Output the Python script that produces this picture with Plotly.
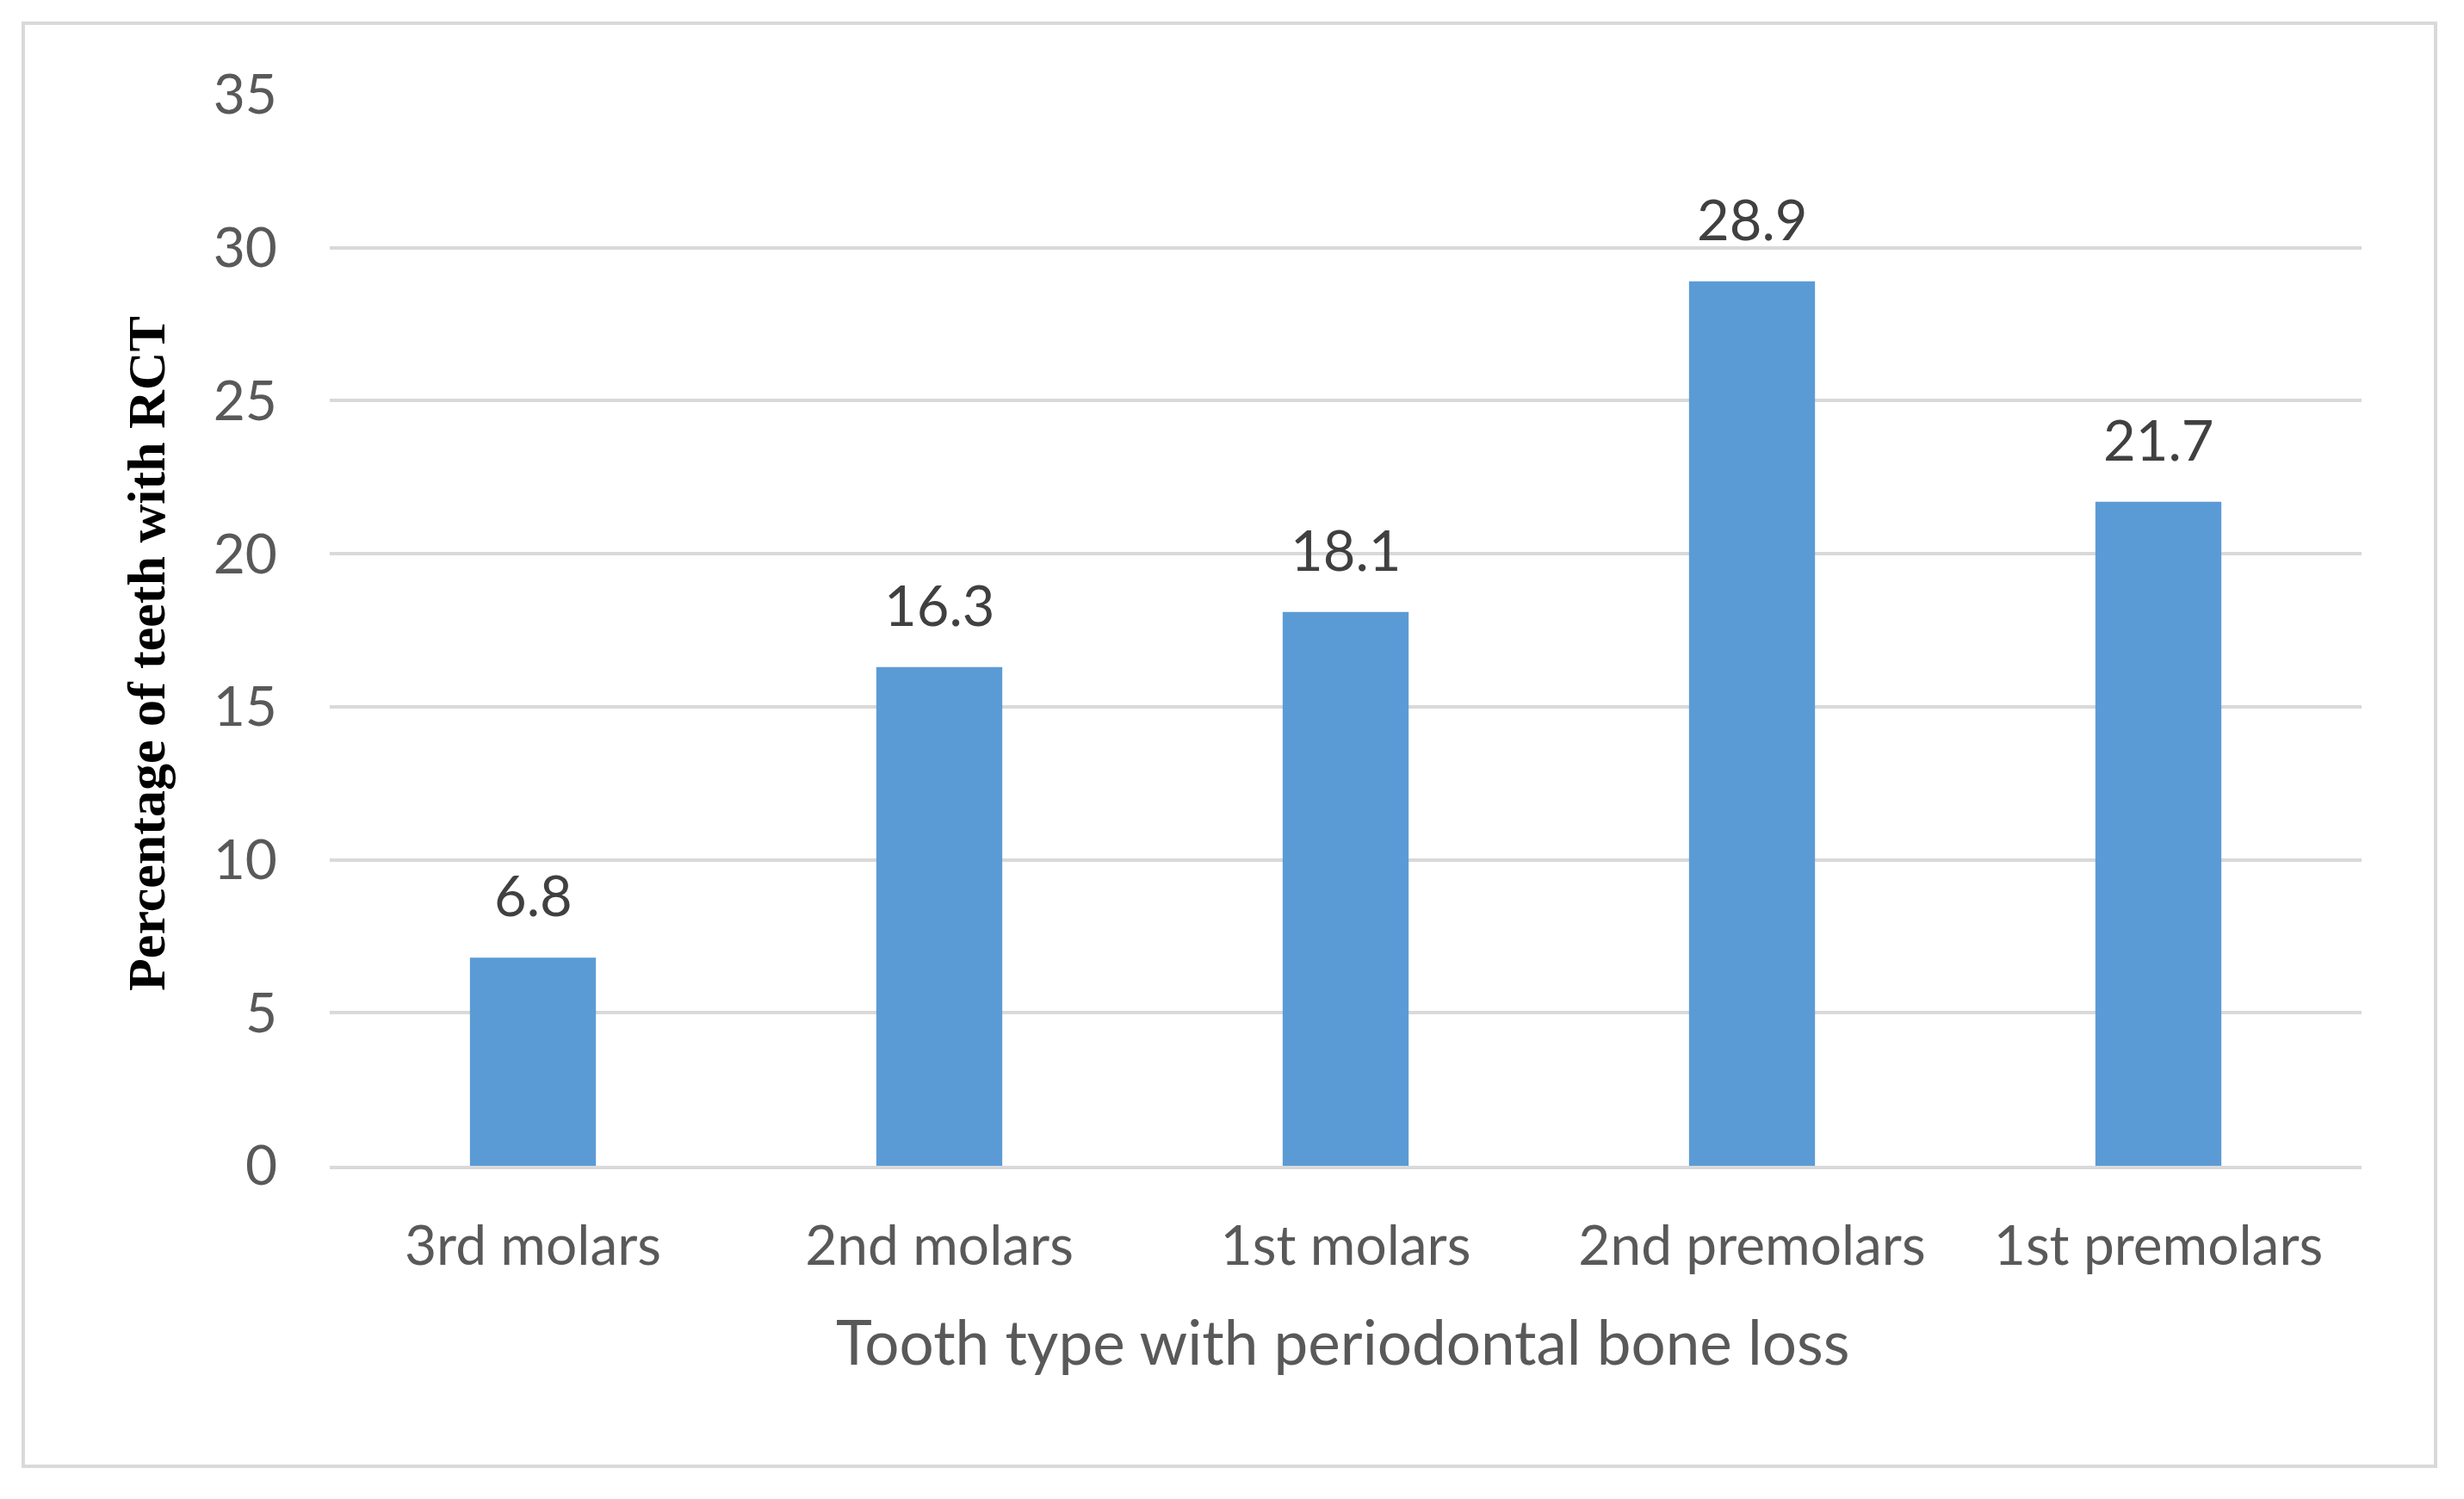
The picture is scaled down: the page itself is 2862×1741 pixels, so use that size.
import plotly.graph_objects as go

categories = ["3rd molars", "2nd molars", "1st molars", "2nd premolars", "1st premolars"]
values = [6.8, 16.3, 18.1, 28.9, 21.7]
y_ticks = [0, 5, 10, 15, 20, 25, 30, 35]

W, H = 2862, 1741
OFF = 8  # page body margin
L, R, T, B = 383 - OFF, 2862 - 2743 + OFF, 110 - OFF, 1741 - 1354 + OFF
pw, ph = W - L - R, H - T - B

def px(x):
    return (x - OFF - L) / pw

def py(y):
    return (H - B - (y - OFF)) / ph

fig = go.Figure()
fig.add_trace(go.Bar(
    x=categories, y=values,
    marker=dict(color="#5B9BD5", line=dict(width=0)),
    width=0.31,
))

for c, v in zip(categories, values):
    fig.add_annotation(x=c, y=v, text=f"{v}", showarrow=False,
                       yanchor="middle", yshift=73,
                       font=dict(family="Lato", size=65, color="#404040"))

fig.add_annotation(xref="paper", yref="paper", x=px(1560), y=py(1557),
                   text="Tooth type with periodontal bone loss", showarrow=False,
                   xanchor="center", yanchor="middle",
                   font=dict(family="Lato", size=71, color="#595959"))
fig.add_annotation(xref="paper", yref="paper", x=px(170), y=py(759),
                   text="<b>Percentage of teeth with RCT</b>", showarrow=False, textangle=-90,
                   xanchor="center", yanchor="middle",
                   font=dict(family="Liberation Serif", size=62, color="#000000"))

fig.add_shape(type="rect", xref="paper", yref="paper",
              x0=px(27), x1=px(2829), y0=py(27), y1=py(1703),
              line=dict(color="#d9d9d9", width=4), layer="below")

fig.update_layout(
    width=W, height=H,
    margin=dict(l=L, r=R, t=T, b=B),
    paper_bgcolor="white", plot_bgcolor="white",
    showlegend=False,
    xaxis=dict(showgrid=False, showline=True, linecolor="#d9d9d9", linewidth=4,
               ticks="", tickfont=dict(family="Lato", size=64, color="#595959"),
               ticklabelstandoff=34, fixedrange=True),
    yaxis=dict(range=[0, 35], tickvals=y_ticks, showgrid=True, gridcolor="#d9d9d9",
               gridwidth=4, zeroline=False, showline=False, ticks="",
               tickfont=dict(family="Lato", size=64, color="#595959"),
               ticklabelstandoff=60, fixedrange=True),
)

fig.write_html("out.html")
